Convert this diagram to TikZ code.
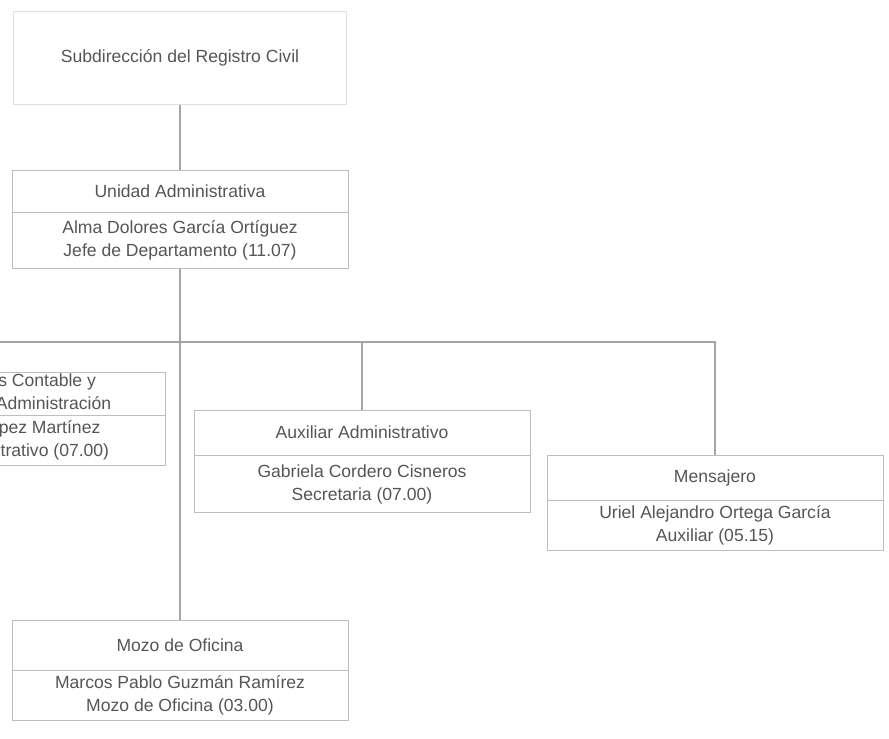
\documentclass[tikz,border=0pt]{standalone}
\usepackage{fontspec}
\setmainfont{Liberation Sans}
\usepackage{tikz}
\usetikzlibrary{positioning,calc}
\definecolor{boxline}{RGB}{190,190,190}
\definecolor{linkline}{RGB}{165,165,165}
\definecolor{textgray}{RGB}{85,85,85}
\tikzstyle{cargo} = [draw=boxline, rectangle, align=center, text=textgray, font=\fontsize{10}{13}\selectfont, minimum width=6.72cm, inner sep=0pt]
\tikzstyle{titular} = [cargo, below=0pt of #1]
\tikzstyle{link} = [draw=linkline, line width=0.7pt]

\begin{document}
\begin{tikzpicture}[x=0.02cm, y=-0.02cm]
\clip (0,0) rectangle (889,739);

%% Subdireccion %%
\node [cargo, draw=black!12, minimum width=6.66cm, minimum height=1.86cm] (Subdireccion) at (180,58) {Subdirección del Registro Civil};

%% Unidad Administrativa %%
\node [cargo, minimum height=0.84cm] (Unidad) at (180,191) {Unidad Administrativa};
\node [titular=Unidad, minimum height=1.12cm] (UnidadTitular) {Alma Dolores García Ortíguez\\Jefe de Departamento (11.07)};

%% Puestos bajo la unidad %%
\node [cargo, minimum width=7cm, minimum height=0.86cm] (Contable) at (-10,393.5) {Jefe de Análisis Contable y\\Seguimiento de Administración};
\node [titular=Contable, minimum width=7cm, minimum height=1cm] (ContableTitular) {María Elena López Martínez\\Analista Administrativo (07.00)};
\node [cargo, minimum height=0.9cm] (Auxiliar) at (362,432.5) {Auxiliar Administrativo};
\node [titular=Auxiliar, minimum height=1.14cm] (AuxiliarTitular) {Gabriela Cordero Cisneros\\Secretaria (07.00)};
\node [cargo, minimum height=0.9cm] (Mensajero) at (715,477.5) {Mensajero};
\node [titular=Mensajero, minimum height=1cm] (MensajeroTitular) {Uriel Alejandro Ortega García\\Auxiliar (05.15)};
\node [cargo, minimum height=1cm] (Mozo) at (180,645) {Mozo de Oficina};
\node [titular=Mozo, minimum height=1cm] (MozoTitular) {Marcos Pablo Guzmán Ramírez\\Mozo de Oficina (03.00)};

%% Conexiones %%
\coordinate (bus) at (180,342);
\draw[link] (Subdireccion) -- (Unidad);
\draw[link] (UnidadTitular) -- (Mozo);
\draw[link] (Contable.north) |- (bus) -| (Mensajero.north);
\draw[link] (bus -| Auxiliar.north) -- (Auxiliar.north);

\end{tikzpicture}
\end{document}
